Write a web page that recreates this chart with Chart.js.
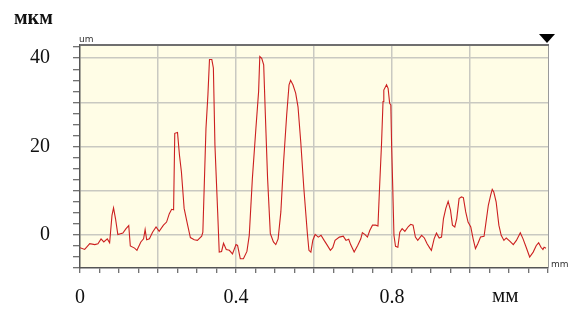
<!DOCTYPE html>
<html>
<head>
<meta charset="utf-8">
<script src="https://cdn.jsdelivr.net/npm/chart.js@4.4.0/dist/chart.umd.min.js"></script>
<style>
  html, body { margin: 0; padding: 0; background: #fff; }
  canvas { display: block; }
</style>
</head>
<body>
<canvas id="profileChart" width="569" height="309"></canvas>
<script>
// ===============================
// DATA
// ===============================
const xMm = [
  0.000, 0.012, 0.025, 0.038, 0.046, 0.054, 0.061, 0.070, 0.076, 0.082,
  0.086, 0.091, 0.097, 0.110, 0.118, 0.125, 0.129, 0.140, 0.146, 0.156,
  0.163, 0.167, 0.171, 0.178, 0.186, 0.195, 0.203, 0.214, 0.222, 0.229,
  0.235, 0.240, 0.243, 0.250, 0.255, 0.260, 0.267, 0.276, 0.283, 0.293,
  0.301,
  0.312, 0.315, 0.323, 0.328, 0.332, 0.338, 0.342, 0.346, 0.353, 0.357,
  0.363, 0.368, 0.375, 0.383, 0.391, 0.400, 0.404, 0.411, 0.419, 0.428,
  0.434, 0.442, 0.451, 0.458, 0.461, 0.466, 0.471, 0.475, 0.481, 0.488,
  0.496, 0.502, 0.508, 0.515, 0.522, 0.530, 0.536, 0.540, 0.546, 0.553,
  0.559, 0.566, 0.574, 0.583, 0.587, 0.592, 0.597,
  0.603, 0.611, 0.618, 0.626, 0.633, 0.642, 0.648, 0.654, 0.665, 0.675,
  0.682, 0.689, 0.694, 0.703, 0.712, 0.720, 0.724, 0.731, 0.737, 0.743,
  0.750, 0.758, 0.764, 0.768, 0.773, 0.777, 0.779, 0.786, 0.790, 0.794,
  0.797, 0.799, 0.802, 0.805, 0.809, 0.815, 0.820, 0.826, 0.833, 0.842,
  0.848, 0.854, 0.860, 0.866, 0.876, 0.883, 0.890, 0.897,
  0.901, 0.908, 0.914, 0.921, 0.927, 0.932, 0.938, 0.944, 0.950, 0.955,
  0.961, 0.966, 0.972, 0.978, 0.983, 0.989, 0.995, 1.002, 1.008, 1.014,
  1.020, 1.027, 1.036, 1.040, 1.047, 1.053, 1.057, 1.061, 1.067, 1.074,
  1.080, 1.087, 1.093, 1.102, 1.111, 1.119, 1.129, 1.136, 1.144, 1.153,
  1.162, 1.170, 1.176, 1.182, 1.187, 1.190, 1.195
];

const yUm = [
  -2.9, -3.3, -2.0, -2.2, -2.0, -0.9, -1.6, -0.9, -1.8, 4.4,
  6.1, 3.7, 0.1, 0.4, 1.4, 2.1, -2.5, -3.0, -3.5, -1.6,
  -0.9, 1.2, -1.1, -0.9, 0.6, 1.8, 0.8, 2.2, 2.9, 4.8,
  5.8, 5.7, 23.0, 23.2, 18.1, 14.3, 6.0, 2.2, -0.6, -1.1,
  -1.25,
  -0.3, 0.6, 24.1, 31.7, 39.7, 39.7, 37.8, 20.3, 5.2, -3.9,
  -3.75, -1.9, -3.3, -3.5, -4.3, -2.2, -2.4, -5.4, -5.4, -3.75,
  -0.1, 12.8, 24.1, 32.5, 40.4, 40.0, 38.5, 27.9, 12.8, 0.3,
  -1.6, -2.2, -0.9, 5.2, 16.5, 27.2, 34.0, 35.0, 34.0, 32.1,
  29.0, 21.1, 10.5, 0.3, -3.5, -3.9, -1.2,
  0.1, -0.5, -0.1, -1.25, -2.2, -3.5, -2.9, -1.25, -0.5, -0.3,
  -1.25, -1.0, -2.2, -3.9, -2.4, -0.9, 0.5, 0.05, -0.5, 1.0,
  2.2, 2.2, 2.0, 10.5, 20.3, 30.2, 32.8, 34.0, 33.2, 29.8,
  29.4, 20.3, 10.5, -0.1, -2.6, -2.8, 0.6, 1.4, 0.8, 1.9,
  2.4, 2.2, -0.5, -1.25, -0.1, -0.7, -2.0, -3.0,
  -3.5, -0.9, 0.4, -0.7, -0.5, 3.7, 6.0, 7.6, 5.6, 2.2,
  1.8, 3.7, 8.2, 8.6, 8.45, 5.2, 2.9, 1.8, -0.9, -3.1,
  -2.0, -0.5, -0.3, 2.2, 6.7, 9.0, 10.3, 9.7, 7.5, 2.2,
  -0.1, -1.25, -0.7, -1.4, -2.2, -1.25, 0.5, -0.9, -2.8, -5.0,
  -3.9, -2.4, -1.8, -2.8, -3.3, -2.8, -3.0
];

// axis ranges / ticks
const xMin = 0, xMax = 1.2, xMinorStep = 0.05, xGridStep = 0.2;
const yMin = -7.5, yMax = 43, yMinorStep = 2.5, yGridStep = 10;
const xLabels = ["0", "0.4", "0.8"];
const yLabels = ["0", "20", "40"];

const serif = "'Liberation Serif', 'Times New Roman', serif";
const GRID = "#c9c9c1";

// ===============================
// HELPERS
// ===============================
function stepTicks(min, max, step) {
  const out = [];
  const first = Math.ceil(min / step - 1e-6);
  for (let i = first; i * step <= max + 1e-6; i++) out.push({ value: +(i * step).toFixed(4) });
  return out;
}

function onStep(v, step) {
  const r = v / step;
  return Math.abs(r - Math.round(r)) < 1e-6;
}

function fmt(v) {
  return String(+v.toFixed(2));
}

// ===============================
// PLOT DECORATION PLUGIN
// ===============================
const profileFrame = {
  id: "profileFrame",
  beforeDraw(chart) {
    const { ctx, chartArea: a } = chart;
    ctx.save();
    ctx.fillStyle = "#fffde6";
    ctx.fillRect(a.left, a.top, a.right - a.left, a.bottom - a.top);
    ctx.restore();
  },
  afterDraw(chart) {
    const { ctx, chartArea: a } = chart;
    ctx.save();

    // top + right frame
    ctx.strokeStyle = "#9a9a9a";
    ctx.lineWidth = 1;
    ctx.beginPath();
    ctx.moveTo(a.right + 0.5, a.top);
    ctx.lineTo(a.right + 0.5, a.bottom);
    ctx.stroke();
    ctx.strokeStyle = "#6f6f6f";
    ctx.lineWidth = 2;
    ctx.beginPath();
    ctx.moveTo(a.left, a.top);
    ctx.lineTo(a.right + 1, a.top);
    ctx.stroke();

    // marker triangle
    ctx.fillStyle = "#000";
    ctx.beginPath();
    ctx.moveTo(a.right - 9, a.top - 11);
    ctx.lineTo(a.right + 7, a.top - 11);
    ctx.lineTo(a.right - 1, a.top - 2);
    ctx.closePath();
    ctx.fill();

    // small unit labels
    ctx.fillStyle = "#333";
    ctx.font = "9px 'DejaVu Sans', sans-serif";
    ctx.textBaseline = "alphabetic";
    ctx.textAlign = "left";
    ctx.fillText("um", a.left - 1, a.top - 3);
    ctx.fillText("mm", a.right + 3, a.bottom - 1);

    // big unit labels
    ctx.fillStyle = "#111";
    ctx.font = "bold 20px " + serif;
    ctx.fillText("мкм", 14, 24);
    ctx.font = "21px " + serif;
    ctx.fillText("мм", 492, 302);

    ctx.restore();
  }
};

// ===============================
// CHART
// ===============================
new Chart(document.getElementById("profileChart"), {
  type: "scatter",
  data: {
    datasets: [{
      data: xMm.map((x, i) => ({ x, y: yUm[i] })),
      showLine: true,
      borderColor: "#cc2020",
      borderWidth: 1.1,
      pointRadius: 0,
      tension: 0
    }]
  },
  options: {
    responsive: false,
    animation: false,
    devicePixelRatio: 1,
    layout: { padding: { left: 0, top: 45, right: 21, bottom: 0 } },
    plugins: { legend: { display: false }, tooltip: { enabled: false } },
    scales: {
      x: {
        type: "linear",
        min: xMin,
        max: xMax,
        afterBuildTicks: s => { s.ticks = stepTicks(xMin, xMax, xMinorStep); },
        afterFit: s => { s.height = 41; },
        ticks: {
          autoSkip: false,
          maxRotation: 0,
          padding: 13,
          color: "#111",
          font: { family: serif, size: 20 },
          callback: v => (xLabels.includes(fmt(v)) ? fmt(v) : "")
        },
        grid: {
          color: c => (c.tick && onStep(c.tick.value, xGridStep) && c.tick.value > xMin && c.tick.value < xMax - 1e-6 ? GRID : "transparent"),
          lineWidth: 1.5,
          tickColor: "#444",
          tickWidth: 1,
          tickLength: 5
        },
        border: { display: true, color: "#555", width: 1.5 }
      },
      y: {
        type: "linear",
        min: yMin,
        max: yMax,
        afterBuildTicks: s => { s.ticks = stepTicks(yMin, 42.5, yMinorStep); },
        afterFit: s => { s.width = 80; },
        ticks: {
          autoSkip: false,
          padding: 23,
          color: "#111",
          font: { family: serif, size: 20 },
          callback: v => (yLabels.includes(fmt(v)) ? fmt(v) : "")
        },
        grid: {
          color: c => (c.tick && onStep(c.tick.value, yGridStep) ? GRID : "transparent"),
          lineWidth: 1.5,
          tickColor: "#444",
          tickWidth: 1,
          tickLength: 7
        },
        border: { display: true, color: "#555", width: 1.5 }
      }
    }
  },
  plugins: [profileFrame]
});
</script>
</body>
</html>
